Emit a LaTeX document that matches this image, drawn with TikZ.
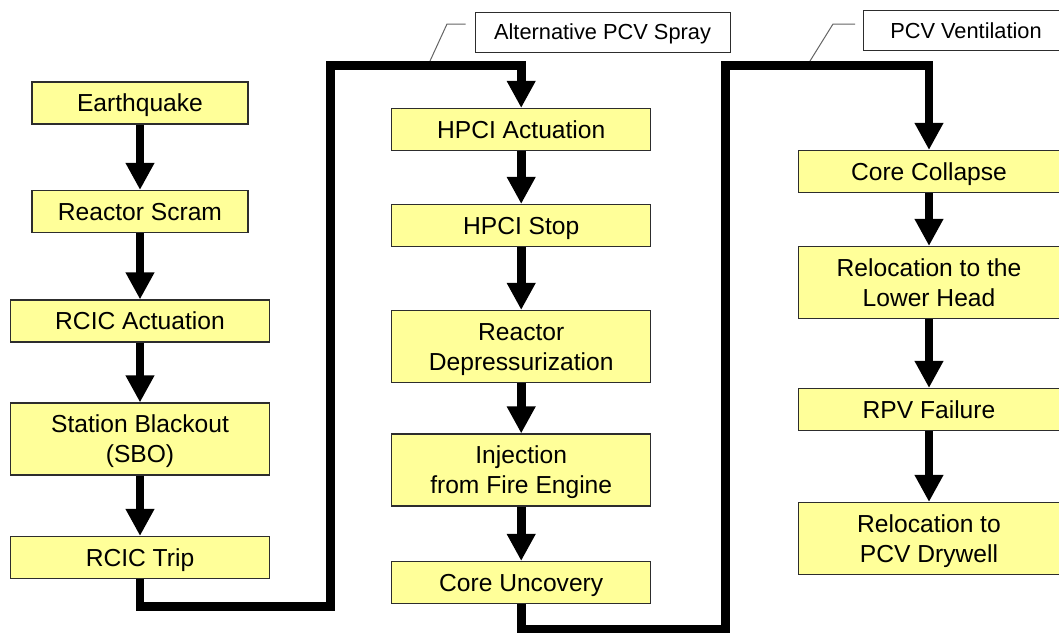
\documentclass[tikz,border=0pt]{standalone}
\usepackage{fontspec}
\setmainfont{Liberation Sans}
\usetikzlibrary{arrows.meta}
\definecolor{evfill}{RGB}{255,255,153}
\definecolor{evedge}{RGB}{45,45,45}
\definecolor{leadgray}{RGB}{100,100,100}
\begin{document}
\begin{tikzpicture}[x=1pt,y=-1pt,
  event/.style={draw=evedge, line width=1.1pt, fill=evfill, inner sep=0pt,
    minimum height=42pt, align=center, text=black,
    font=\fontsize{24.6}{30}\selectfont, text height=17.6pt, text depth=0pt},
  tall/.style={event, minimum height=72pt, text height=47.6pt, text depth=0pt},
  notebox/.style={draw=evedge, line width=1pt, fill=white, inner sep=0pt,
    minimum height=40pt, text=black, font=\fontsize{21.8}{26}\selectfont,
    text height=15.6pt, text depth=0pt},
  arr/.style={line width=8.7pt, -{Triangle[width=27pt,length=27pt]}},
  mainline/.style={arr, line join=miter},
  leader/.style={draw=leadgray, line width=1pt}]
\useasboundingbox (0,0) rectangle (1059,632);

% first column
\node[event, minimum width=216pt] (eq)    at (140,103)   {Earthquake};
\node[event, minimum width=216pt] (scram) at (140,211.5) {Reactor Scram};
\node[event, minimum width=259pt] (rcica) at (140,321)   {RCIC Actuation};
\node[tall,  minimum width=259pt] (sbo)   at (140,439)   {Station Blackout\\(SBO)};
\node[event, minimum width=259pt] (rcict) at (140,557.5) {RCIC Trip};

% second column
\node[event, minimum width=259.4pt] (hpcia) at (521.2,129.5) {HPCI Actuation};
\node[event, minimum width=259.4pt] (hpcis) at (521.2,225.5) {HPCI Stop};
\node[tall,  minimum width=259.4pt] (depr)  at (521.2,346.5) {Reactor\\Depressurization};
\node[tall,  minimum width=259.4pt] (inj)   at (521.2,470)   {Injection\\from Fire Engine};
\node[event, minimum width=259.4pt] (uncov) at (521.2,582.5) {Core Uncovery};

% third column
\node[event, minimum width=261pt] (coll)  at (929,171.5) {Core Collapse};
\node[tall,  minimum width=261pt] (lower) at (929,282.5) {Relocation to the\\Lower Head};
\node[event, minimum width=261pt] (rpv)   at (929,409.5) {RPV Failure};
\node[tall,  minimum width=261pt] (dry)   at (929,538.5) {Relocation to\\PCV Drywell};

% annotations
\node[notebox, minimum width=255pt] (alt)  at (602.5,32)  {Alternative PCV Spray};
\node[notebox, minimum width=206pt] (vent) at (966,30.5)  {PCV Ventilation};

% arrows inside the columns
\draw[arr] (eq) -- (scram);
\draw[arr] (scram) -- (rcica);
\draw[arr] (rcica) -- (sbo);
\draw[arr] (sbo) -- (rcict);
\draw[arr] (hpcia) -- (hpcis);
\draw[arr] (hpcis) -- (depr);
\draw[arr] (depr) -- (inj);
\draw[arr] (inj) -- (uncov);
\draw[arr] (coll) -- (lower);
\draw[arr] (lower) -- (rpv);
\draw[arr] (rpv) -- (dry);

% connectors between the columns
\coordinate (b1) at (330.5,606.5);
\coordinate (t1) at (521.2,65.5);
\coordinate (b2) at (725.3,629.5);
\coordinate (t2) at (929,65.5);
\draw[mainline] (rcict.south) |- (b1) |- (t1) -- (hpcia.north);
\draw[mainline] (uncov.south) |- (b2) |- (t2) -- (coll.north);

% leader lines to the annotations
\coordinate (p1) at (430,61);
\coordinate (q1) at (447,24);
\coordinate (r1) at (465.5,24);
\coordinate (p2) at (810,61);
\coordinate (q2) at (833,24);
\coordinate (r2) at (855,24);
\draw[leader] (p1) -- (q1) -- (r1);
\draw[leader] (p2) -- (q2) -- (r2);
\end{tikzpicture}
\end{document}
